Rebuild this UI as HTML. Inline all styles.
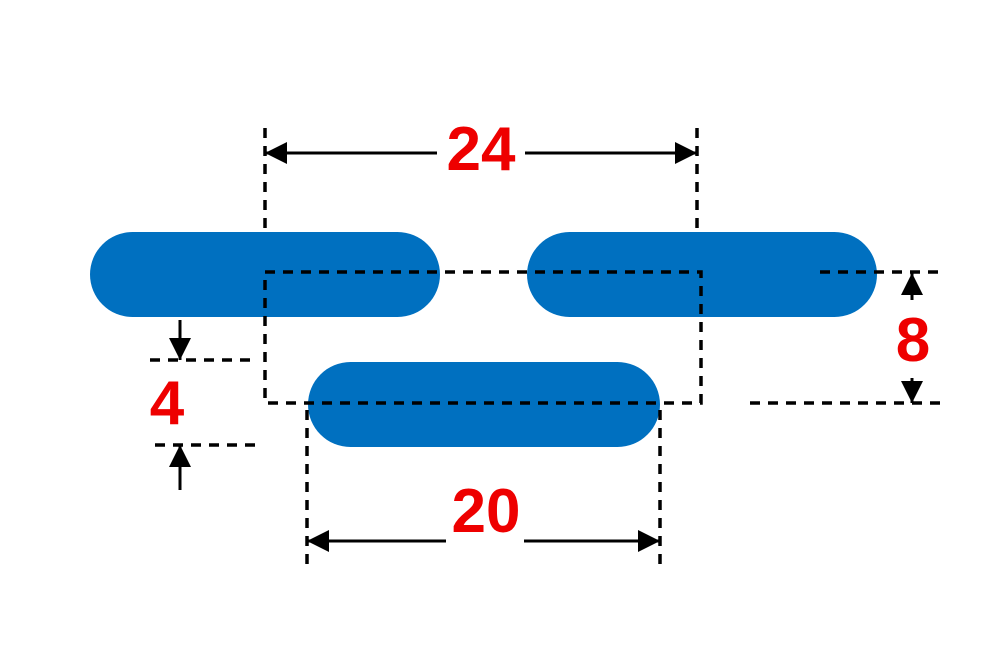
<!DOCTYPE html>
<html><head><style>body{margin:0;background:#fff}</style></head><body>
<svg width="1000" height="667" viewBox="0 0 1000 667" xmlns="http://www.w3.org/2000/svg">
<defs>
<marker id="a" viewBox="0 0 10 10" refX="10" refY="5" markerWidth="22" markerHeight="22" markerUnits="userSpaceOnUse" orient="auto"><path d="M0,0L10,5L0,10Z" fill="#000"/></marker>
</defs>
<g fill="#0070c0">
<rect x="90" y="232" width="350" height="85" rx="42.5"/>
<rect x="527" y="232" width="350" height="85" rx="42.5"/>
<rect x="308" y="362" width="352" height="85" rx="42.5"/>
</g>
<g stroke="#000" stroke-width="3.5" fill="none" stroke-dasharray="10,8">
<line x1="265" y1="128" x2="265" y2="228"/>
<line x1="697" y1="128" x2="697" y2="228"/>
<path d="M265,272H701V403H265Z"/>
<line x1="820" y1="272" x2="942" y2="272"/>
<line x1="750" y1="403" x2="942" y2="403"/>
<line x1="150" y1="360" x2="255" y2="360"/>
<line x1="155" y1="445" x2="258" y2="445"/>
<line x1="307" y1="410" x2="307" y2="565"/>
<line x1="660" y1="410" x2="660" y2="565"/>
</g>
<g stroke="#000" stroke-width="3" fill="none">
<line x1="437" y1="153" x2="265" y2="153" marker-end="url(#a)"/>
<line x1="525" y1="153" x2="697" y2="153" marker-end="url(#a)"/>
<line x1="446" y1="541" x2="307" y2="541" marker-end="url(#a)"/>
<line x1="524" y1="541" x2="660" y2="541" marker-end="url(#a)"/>
<line x1="180" y1="320" x2="180" y2="360" marker-end="url(#a)"/>
<line x1="180" y1="490" x2="180" y2="445" marker-end="url(#a)"/>
<line x1="912" y1="300" x2="912" y2="273" marker-end="url(#a)"/>
<line x1="912" y1="378" x2="912" y2="403" marker-end="url(#a)"/>
</g>
<g fill="#ee0000" font-family="Liberation Sans, sans-serif" font-weight="bold" font-size="62" text-anchor="middle">
<text x="481" y="170">24</text>
<text x="486" y="532">20</text>
<text x="167" y="424">4</text>
<text x="913" y="361">8</text>
</g>
</svg>
</body></html>
